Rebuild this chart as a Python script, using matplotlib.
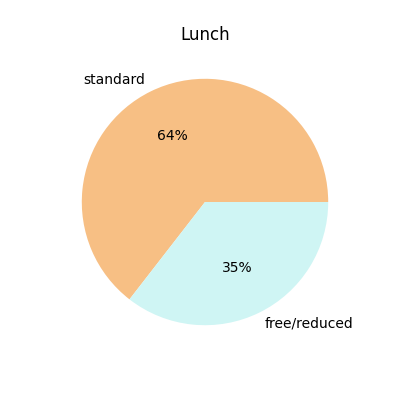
import matplotlib
matplotlib.use('agg')
import matplotlib.pyplot as plt

# lunch type counts
labels = ["standard", "free/reduced"]
counts = [645, 355]
colors = ["#f7bf84", "#cff5f4"]

fig, ax = plt.subplots(figsize=(4, 4), dpi=100)
ax.pie(counts, labels=labels, colors=colors, autopct=lambda p: "%d%%" % int(p))
ax.set_title("Lunch")
plt.savefig("out.png")
